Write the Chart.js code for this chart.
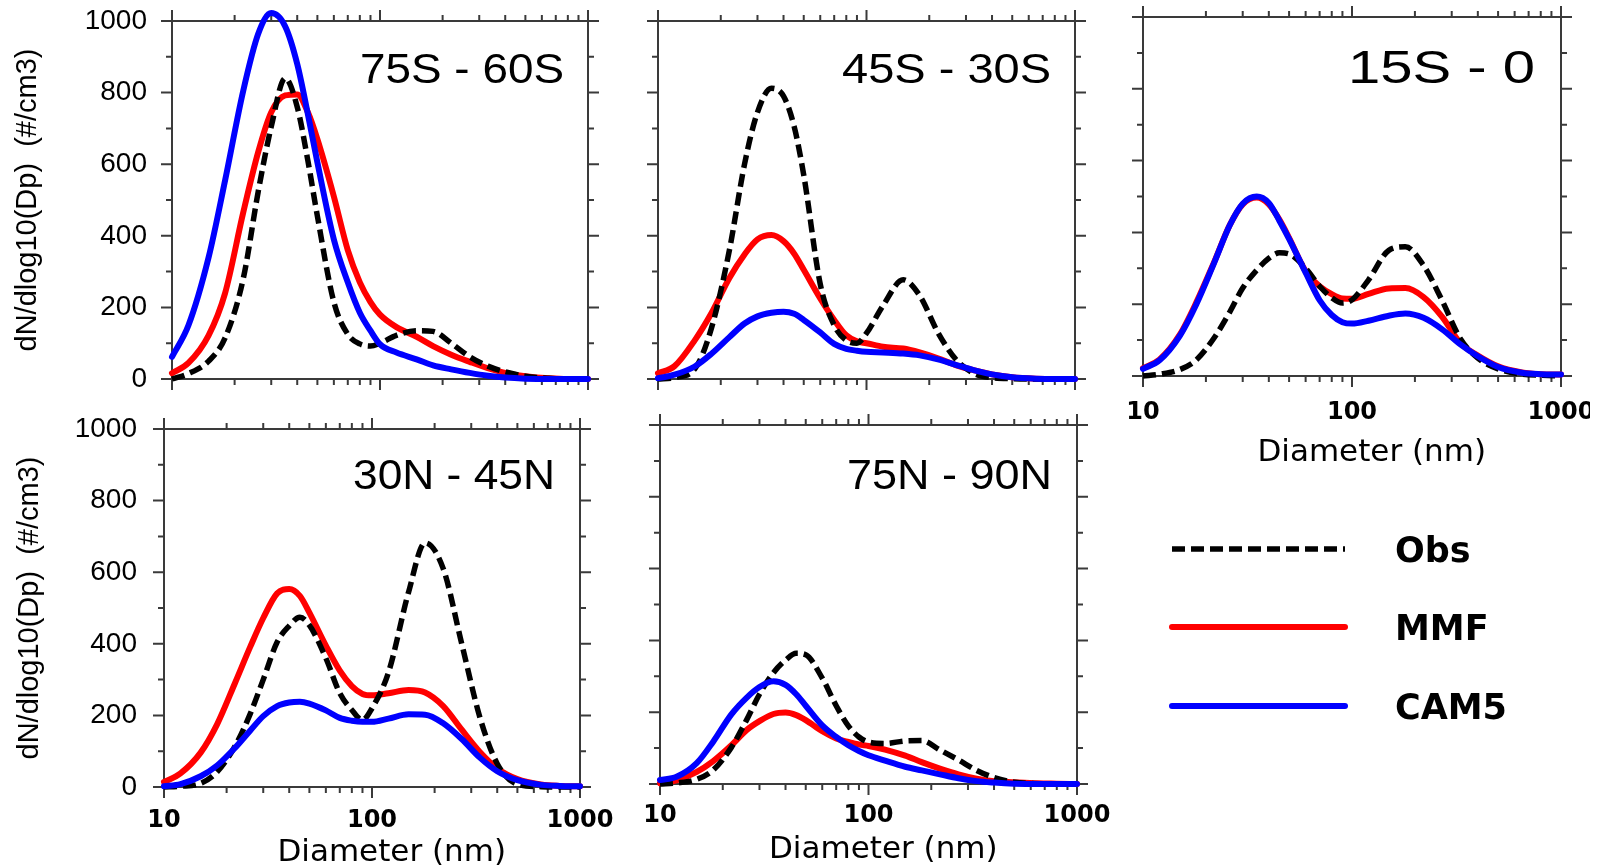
<!DOCTYPE html>
<html>
<head>
<meta charset="utf-8">
<script src="https://cdn.jsdelivr.net/npm/chart.js@4.4.1/dist/chart.umd.min.js"></script>
<style>
  html, body { margin: 0; padding: 0; background: #fff; overflow: hidden; }
  #page { position: relative; width: 1604px; height: 868px; overflow: hidden; background: #fff; }
  #page canvas { position: absolute; }
</style>
</head>
<body>
<div id="page"></div>
<script>
// particle diameter (nm) shared by every size distribution
const DIAMETER = [10, 12, 15, 18, 22, 26, 30, 35, 40, 45, 50, 60, 70, 80, 90, 100, 120, 150, 180, 220, 270, 330, 400, 500, 650, 800, 1000];

// dN/dlog10(Dp) in #/cm3
const OBS_75S_60S  = [0, 15, 50, 115, 280, 525, 705, 840, 760, 610, 455, 215, 125, 98, 92, 100, 122, 135, 133, 100, 62, 36, 20, 8, 2, 0, 0];
const MMF_75S_60S  = [16, 45, 122, 240, 465, 635, 745, 792, 795, 745, 670, 510, 360, 270, 215, 180, 145, 118, 92, 68, 48, 30, 17, 8, 2, 0, 0];
const CAM5_75S_60S = [62, 150, 340, 555, 805, 965, 1022, 985, 880, 740, 605, 390, 270, 185, 135, 97, 74, 55, 38, 27, 17, 9, 4, 1, 0, 0, 0];

const OBS_45S_30S  = [0, 4, 28, 140, 360, 600, 745, 812, 790, 705, 570, 265, 150, 108, 100, 128, 205, 277, 233, 130, 53, 15, 4, 1, 0, 0, 0];
const MMF_45S_30S  = [16, 36, 108, 183, 282, 348, 390, 402, 385, 350, 305, 225, 165, 122, 105, 100, 90, 85, 74, 58, 38, 24, 13, 5, 1, 0, 0];
const CAM5_45S_30S = [2, 12, 35, 70, 117, 155, 175, 185, 188, 182, 165, 130, 98, 84, 79, 76, 74, 71, 66, 55, 39, 24, 13, 5, 1, 0, 0];

const OBS_15S_0  = [0, 5, 18, 45, 108, 178, 245, 295, 328, 343, 340, 300, 250, 218, 203, 212, 268, 350, 360, 308, 210, 104, 50, 20, 5, 2, 0];
const MMF_15S_0  = [22, 46, 115, 205, 320, 420, 478, 497, 478, 435, 385, 292, 250, 228, 216, 215, 229, 244, 245, 220, 165, 92, 57, 27, 10, 5, 4];
const CAM5_15S_0 = [20, 44, 112, 200, 318, 420, 480, 500, 482, 432, 382, 288, 211, 170, 150, 146, 154, 168, 174, 162, 130, 88, 55, 25, 9, 5, 4];

const OBS_30N_45N  = [0, 2, 10, 42, 115, 205, 300, 405, 450, 474, 452, 360, 262, 215, 187, 220, 320, 545, 682, 610, 400, 195, 65, 8, 1, 0, 0];
const MMF_30N_45N  = [14, 38, 96, 175, 292, 392, 472, 541, 553, 534, 487, 395, 325, 282, 260, 256, 262, 271, 264, 226, 160, 98, 52, 22, 7, 3, 2];
const CAM5_30N_45N = [2, 8, 30, 60, 110, 158, 198, 226, 236, 238, 233, 214, 193, 185, 182, 182, 191, 203, 202, 178, 134, 82, 44, 19, 6, 3, 2];

const OBS_75N_90N  = [0, 3, 13, 39, 102, 178, 250, 310, 345, 364, 360, 295, 218, 162, 131, 117, 113, 120, 121, 95, 67, 38, 18, 5, 1, 0, 0];
const MMF_75N_90N  = [2, 10, 34, 64, 108, 150, 175, 195, 199, 192, 178, 147, 127, 117, 110, 106, 96, 79, 61, 43, 27, 15, 8, 5, 2, 1, 0];
const CAM5_75N_90N = [11, 20, 58, 118, 194, 240, 270, 286, 276, 250, 218, 163, 131, 108, 92, 80, 65, 48, 38, 27, 16, 8, 4, 1, 0, 0, 0];

const PANEL_TITLES = ['75S - 60S', '45S - 30S', '15S - 0', '30N - 45N', '75N - 90N'];
const SERIES_NAMES = ['Obs', 'MMF', 'CAM5'];
const X_TITLE = 'Diameter (nm)';
const Y_TITLE = 'dN/dlog10(Dp)  (#/cm3)';
const X_MAJOR = [10, 100, 1000];
const X_MINOR = [20, 30, 40, 50, 60, 70, 80, 90, 200, 300, 400, 500, 600, 700, 800, 900];
const Y_MAJOR = [0, 200, 400, 600, 800, 1000];
const Y_MINOR = [100, 300, 500, 700, 900];

const SANS = '"Liberation Sans", Arial, Helvetica, sans-serif';
const WIDE = '"DejaVu Sans", Verdana, sans-serif';
const FRAME = { color: '#3a3a3a', width: 2, major: 11, minor: 6 };

// box frame with outward major/minor ticks on all four sides
const frameTicks = {
  id: 'frameTicks',
  beforeDatasetsDraw(chart) {
    const { ctx, chartArea: a, scales: { x, y } } = chart;
    ctx.save();
    ctx.strokeStyle = FRAME.color;
    ctx.lineWidth = FRAME.width;
    ctx.strokeRect(a.left, a.top, a.right - a.left, a.bottom - a.top);
    ctx.beginPath();
    const xMark = (v, len) => {
      const px = x.getPixelForValue(v);
      ctx.moveTo(px, a.top); ctx.lineTo(px, a.top - len);
      ctx.moveTo(px, a.bottom); ctx.lineTo(px, a.bottom + len);
    };
    const yMark = (v, len) => {
      const py = y.getPixelForValue(v);
      ctx.moveTo(a.left, py); ctx.lineTo(a.left - len, py);
      ctx.moveTo(a.right, py); ctx.lineTo(a.right + len, py);
    };
    X_MAJOR.forEach(v => xMark(v, FRAME.major));
    X_MINOR.forEach(v => xMark(v, FRAME.minor));
    Y_MAJOR.forEach(v => yMark(v, FRAME.major));
    Y_MINOR.forEach(v => yMark(v, FRAME.minor));
    ctx.stroke();
    ctx.restore();
  }
};

// latitude band label in the upper right corner of each panel
const panelTitle = {
  id: 'panelTitle',
  afterDatasetsDraw(chart, args, o) {
    if (!o.text) return;
    const { ctx, chartArea: a } = chart;
    ctx.save();
    ctx.font = o.size + 'px ' + SANS;
    ctx.fillStyle = '#000';
    ctx.textBaseline = 'alphabetic';
    const w = ctx.measureText(o.text).width;
    ctx.translate(a.right - o.right - o.width, a.top + o.base);
    ctx.scale(o.width / w, 1);
    ctx.fillText(o.text, 0, 0);
    ctx.restore();
  }
};

// line key built from the chart's own dataset styles
const seriesKey = {
  id: 'seriesKey',
  afterDraw(chart, args, o) {
    if (!o.rows) return;
    const ctx = chart.ctx;
    chart.data.datasets.forEach((ds, i) => {
      const y = o.rows[i] - o.originY;
      ctx.save();
      ctx.strokeStyle = ds.borderColor;
      ctx.lineWidth = ds.borderWidth;
      ctx.setLineDash(ds.borderDash);
      ctx.lineCap = ds.borderDash.length ? 'butt' : 'round';
      ctx.beginPath();
      ctx.moveTo(o.x0 - o.originX, y);
      ctx.lineTo(o.x1 - o.originX, y);
      ctx.stroke();
      ctx.setLineDash([]);
      ctx.font = 'bold 35px ' + WIDE;
      ctx.fillStyle = '#000';
      ctx.textBaseline = 'middle';
      ctx.fillText(ds.label, o.textX - o.originX, y + 4);
      ctx.restore();
    });
  }
};

function line(label, values, color, width, dash, order) {
  return {
    label, order,
    data: DIAMETER.map((d, i) => ({ x: d, y: values[i] })),
    borderColor: color,
    borderWidth: width,
    borderDash: dash,
    borderCapStyle: dash.length ? 'butt' : 'round',
    borderJoinStyle: 'round',
    pointRadius: 0,
    fill: false,
    cubicInterpolationMode: 'monotone',
    clip: false
  };
}

const page = document.getElementById('page');

function addPanel(p) {
  const [x0, y0, x1, y1] = p.canvas;
  const [l, t, r, b] = p.plot;
  const cv = document.createElement('canvas');
  cv.width = x1 - x0;
  cv.height = y1 - y0;
  cv.style.left = x0 + 'px';
  cv.style.top = y0 + 'px';
  page.appendChild(cv);
  const yW = p.yLabels ? l - x0 : 0;
  const xH = p.xLabels ? y1 - b : 0;

  new Chart(cv, {
    type: 'line',
    data: {
      datasets: [
        line(SERIES_NAMES[0], p.obs, '#000000', 5.5, [13, 6], 2),
        line(SERIES_NAMES[1], p.mmf, '#ff0000', 6, [], 3),
        line(SERIES_NAMES[2], p.cam5, '#0000ff', 6, [], 1)
      ]
    },
    options: {
      responsive: false,
      animation: false,
      devicePixelRatio: 1,
      layout: {
        padding: {
          left: p.yLabels ? 0 : l - x0,
          top: t - y0,
          right: x1 - r,
          bottom: p.xLabels ? 0 : y1 - b
        }
      },
      plugins: {
        legend: { display: false },
        tooltip: { enabled: false },
        panelTitle: p.title,
        seriesKey: p.key || {}
      },
      scales: {
        x: {
          type: 'logarithmic',
          min: 10,
          max: 1000,
          afterBuildTicks: s => { s.ticks = X_MAJOR.map(v => ({ value: v })); },
          afterFit: s => { s.height = xH; s.paddingLeft = 0; s.paddingRight = 0; },
          grid: { display: false, drawTicks: false },
          border: { display: false },
          ticks: {
            display: p.xLabels,
            padding: p.xTickPad || 0,
            autoSkip: false,
            maxRotation: 0,
            color: '#000',
            font: { family: WIDE, size: 24, weight: 'bold' },
            callback: v => String(v)
          },
          title: {
            display: p.xLabels,
            text: ' '.repeat(p.xShift || 0) + X_TITLE,
            color: '#000',
            font: { family: WIDE, size: 31 },
            padding: { top: 0, bottom: p.xTitlePad || 0 }
          }
        },
        y: {
          min: 0,
          max: 1000,
          afterBuildTicks: s => { s.ticks = Y_MAJOR.map(v => ({ value: v })); },
          afterFit: s => { s.width = yW; s.paddingTop = 0; s.paddingBottom = 0; },
          grid: { display: false, drawTicks: false },
          border: { display: false },
          ticks: {
            display: p.yLabels,
            padding: p.yTickPad || 0,
            color: '#000',
            font: { family: SANS, size: 28 },
            callback: v => String(v)
          },
          title: {
            display: p.yLabels,
            text: Y_TITLE,
            color: '#000',
            font: { family: SANS, size: 29 },
            padding: { top: p.yTitlePad || 0, bottom: 0 }
          }
        }
      }
    },
    plugins: [frameTicks, panelTitle, seriesKey]
  });
}

addPanel({
  obs: OBS_75S_60S, mmf: MMF_75S_60S, cam5: CAM5_75S_60S,
  canvas: [0, 0, 600, 400], plot: [172, 21, 588, 379],
  yLabels: true, yTickPad: 25, yTitlePad: 11,
  xLabels: false,
  title: { text: PANEL_TITLES[0], size: 42, width: 204, right: 24, base: 62 }
});

addPanel({
  obs: OBS_45S_30S, mmf: MMF_45S_30S, cam5: CAM5_45S_30S,
  canvas: [640, 0, 1090, 400], plot: [658, 21, 1075, 379],
  yLabels: false, xLabels: false,
  title: { text: PANEL_TITLES[1], size: 42, width: 209, right: 24, base: 62 }
});

addPanel({
  obs: OBS_15S_0, mmf: MMF_15S_0, cam5: CAM5_15S_0,
  canvas: [1125, 0, 1590, 740], plot: [1143, 17, 1561, 376],
  yLabels: false,
  xLabels: true, xTickPad: 22, xTitlePad: 268, xShift: 4,
  title: { text: PANEL_TITLES[2], size: 46, width: 187, right: 26, base: 66 },
  key: { rows: [549, 627, 706], x0: 1172, x1: 1345, textX: 1395, originX: 1125, originY: 0 }
});

addPanel({
  obs: OBS_30N_45N, mmf: MMF_30N_45N, cam5: CAM5_30N_45N,
  canvas: [0, 410, 625, 880], plot: [164, 429, 580, 787],
  yLabels: true, yTickPad: 27, yTitlePad: 13,
  xLabels: true, xTickPad: 19, xTitlePad: 8, xShift: 4,
  title: { text: PANEL_TITLES[3], size: 42, width: 202, right: 25, base: 60 }
});

addPanel({
  obs: OBS_75N_90N, mmf: MMF_75N_90N, cam5: CAM5_75N_90N,
  canvas: [635, 405, 1115, 880], plot: [660, 425, 1077, 784],
  yLabels: false,
  xLabels: true, xTickPad: 17, xTitlePad: 11, xShift: 3,
  title: { text: PANEL_TITLES[4], size: 42, width: 205, right: 25, base: 64 }
});
</script>
</body>
</html>
